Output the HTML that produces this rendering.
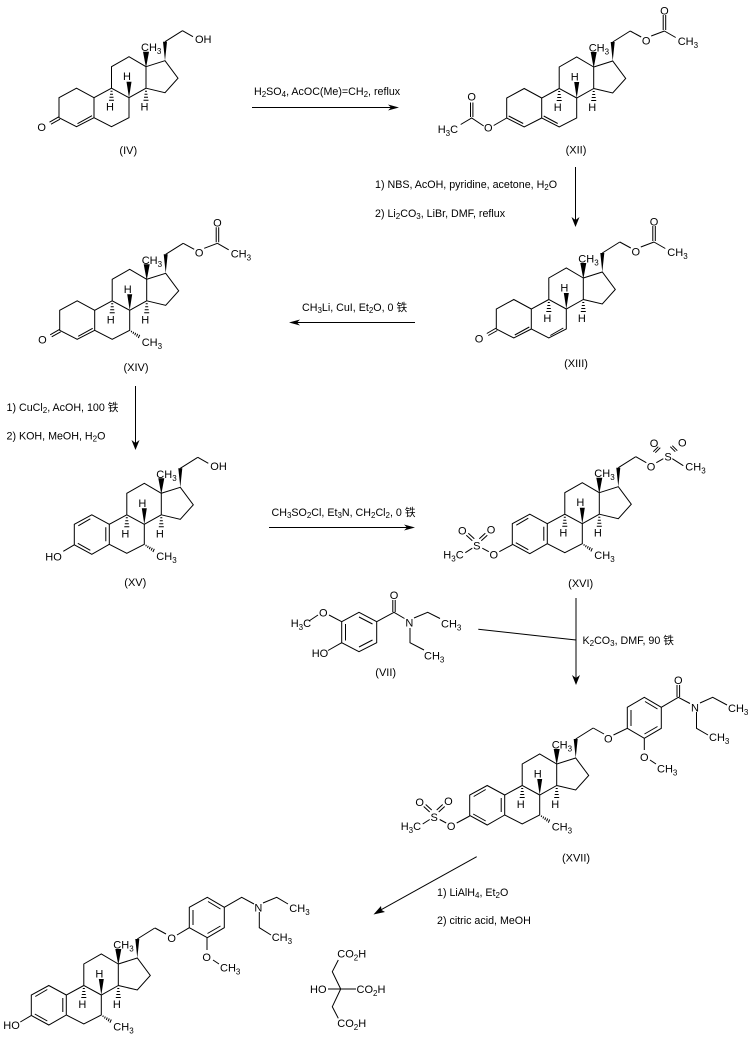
<!DOCTYPE html>
<html><head><meta charset="utf-8">
<style>
html,body{margin:0;padding:0;background:#fff}
svg{display:block}
text{font-family:"Liberation Sans","Noto Sans CJK SC",sans-serif;font-size:11px;fill:#000}
.m{text-anchor:middle}
.r{font-size:10.7px}
.l{font-size:11px;text-anchor:middle}
tspan.s{font-size:8px}
path.b{fill:none;stroke:#000;stroke-width:1}
</style></head><body>
<svg width="750" height="1038" viewBox="0 0 750 1038" xmlns="http://www.w3.org/2000/svg">
<defs>
<g id="sk">
<path class="b" d="M0,0L-17,-10L-34.5,0L-34.5,21.5L-17,31L0,21.5L0,0L19,-6L32,11.5L19,26L0,21.5M-17,31L-17,51L-34.5,60L-52,51L-52,31L-34.5,21.5M19,-25L36.5,-36"/>
<polygon points="0,1 -3,-15 3,-15"/>
<polygon points="-17,31 -19.5,15 -14.5,15"/>
<polygon points="19,-6 17,-25 21,-25"/>
<path class="b" d="M-35.5,24.5h2M-36,27.5h3M-36.5,30.5h4M-37,33.5h5M-1,24.5h2M-1.5,27.5h3M-2,30.5h4M-2.5,33.5h5"/>
</g>
<g id="ketA"><path class="b" d="M-52,31L-69.5,21.5L-87,31L-87,51L-69.5,60L-52,51M-68.5,57L-54,49M-87,50L-96.5,55.5M-86,52.5L-95,57.5"/></g>
<g id="arA"><path class="b" d="M-52,31L-69.5,21.5L-87,31L-87,51.5L-69.5,61L-52,51M-71,25.5L-83,32.5M-83.5,50L-71,57M-55.5,34V48"/></g>
<g id="me7"><path class="b" d="M-15,51.5l-.5,1.5M-13,52.5l-.8,2M-11,53.5l-1,2.4M-9,54.5l-1.2,2.8M-7,55.5l-1.4,3.2"/></g>
<g id="ac"><path class="b" d="M36.5,-36L47.5,-30M57.5,-31L70.7,-36M69.5,-37V-52M72,-37V-52M70.7,-36L82,-29.5"/></g>
<g id="msL"><path class="b" d="M-87,52L-100,59M-110.5,59L-117,55.5M-127,55.5L-134,60M-127,48L-133,42.5M-125,46L-131,40.5M-118,48L-112,42.5M-120,46L-114,40.5"/></g>
</defs>

<!-- IV -->
<g transform="translate(146,66.7)">
<use href="#sk"/><use href="#ketA"/>
<path class="b" d="M36.5,-36L47,-30"/>
<text x="49" y="-23.5">OH</text>
<text x="-104.3" y="64.3" class="m">O</text>
<text x="-5" y="-15.5">CH<tspan class="s" dy="3">3</tspan></text>
<text x="-19" y="13.5" class="m">H</text><text x="-36" y="44" class="m">H</text><text x="-1.5" y="44" class="m">H</text>
</g>
<text x="128.3" y="154" class="l">(IV)</text>

<!-- XII -->
<g transform="translate(593.7,67)">
<use href="#sk"/><use href="#ac"/>
<path class="b" d="M-52,31L-69.5,21.5L-87,31L-87,51L-69.5,60L-52,51M-85,49L-70.5,56.5M-50,49L-36,56.5M-87,51L-100,58.5M-110,59L-122,51L-133,57.5M-123.2,50V35.5M-120.8,50V35.5"/>
<text x="52.5" y="-22.7" class="m">O</text><text x="70.7" y="-52.7" class="m">O</text>
<text x="84" y="-22">CH<tspan class="s" dy="3">3</tspan></text>
<text x="-105.4" y="64.5" class="m">O</text><text x="-122" y="33.5" class="m">O</text>
<text x="-156" y="66">H<tspan class="s" dy="3">3</tspan><tspan dy="-3">C</tspan></text>
<text x="-5" y="-15.5">CH<tspan class="s" dy="3">3</tspan></text>
<text x="-19" y="13.5" class="m">H</text><text x="-36" y="44" class="m">H</text><text x="-1.5" y="44" class="m">H</text>
</g>
<text x="576" y="153.5" class="l">(XII)</text>

<!-- XIII -->
<g transform="translate(583.3,278)">
<use href="#sk"/><use href="#ketA"/><use href="#ac"/>
<path class="b" d="M-20,50L-33,57.5"/>
<text x="52.5" y="-22.7" class="m">O</text><text x="70.7" y="-52.7" class="m">O</text>
<text x="84" y="-22">CH<tspan class="s" dy="3">3</tspan></text>
<text x="-104.3" y="64.3" class="m">O</text>
<text x="-5" y="-15.5">CH<tspan class="s" dy="3">3</tspan></text>
<text x="-19" y="13.5" class="m">H</text><text x="-36" y="44" class="m">H</text><text x="-1.5" y="44" class="m">H</text>
</g>
<text x="576" y="367" class="l">(XIII)</text>

<!-- XIV -->
<g transform="translate(146.7,279.3)">
<use href="#sk"/><use href="#ketA"/><use href="#ac"/><use href="#me7"/>
<text x="52.5" y="-22.7" class="m">O</text><text x="70.7" y="-52.7" class="m">O</text>
<text x="84" y="-22">CH<tspan class="s" dy="3">3</tspan></text>
<text x="-104.3" y="64.3" class="m">O</text>
<text x="-5" y="66.5">CH<tspan class="s" dy="3">3</tspan></text>
<text x="-5" y="-15.5">CH<tspan class="s" dy="3">3</tspan></text>
<text x="-19" y="13.5" class="m">H</text><text x="-36" y="44" class="m">H</text><text x="-1.5" y="44" class="m">H</text>
</g>
<text x="136" y="371" class="l">(XIV)</text>

<!-- XV -->
<g transform="translate(161.3,493.3)">
<use href="#sk"/><use href="#arA"/><use href="#me7"/>
<path class="b" d="M36.5,-36L47,-30M-87,51.5L-98,58"/>
<text x="49" y="-23.5">OH</text>
<text x="-116" y="67">HO</text>
<text x="-5" y="66.5">CH<tspan class="s" dy="3">3</tspan></text>
<text x="-5" y="-15.5">CH<tspan class="s" dy="3">3</tspan></text>
<text x="-19" y="13.5" class="m">H</text><text x="-36" y="44" class="m">H</text><text x="-1.5" y="44" class="m">H</text>
</g>
<text x="135.3" y="586" class="l">(XV)</text>

<!-- XVI -->
<g transform="translate(599.3,492.7)">
<use href="#sk"/><use href="#arA"/><use href="#me7"/><use href="#msL"/>
<path class="b" d="M36.5,-36L47,-30M57,-30L64,-34M59,-46L54,-41M61,-45L56,-40M71,-46L76,-41M73,-47L78,-42M73,-34L84,-27"/>
<text x="51.7" y="-22.4" class="m">O</text><text x="68.7" y="-32.4" class="m">S</text>
<text x="54.7" y="-45.7" class="m">O</text><text x="83" y="-46.4" class="m">O</text>
<text x="86" y="-22">CH<tspan class="s" dy="3">3</tspan></text>
<text x="-105.5" y="65.8" class="m">O</text><text x="-122.5" y="56.8" class="m">S</text>
<text x="-137" y="41.8" class="m">O</text><text x="-108.3" y="41" class="m">O</text>
<text x="-156" y="65.8">H<tspan class="s" dy="3">3</tspan><tspan dy="-3">C</tspan></text>
<text x="-5" y="66.5">CH<tspan class="s" dy="3">3</tspan></text>
<text x="-5" y="-15.5">CH<tspan class="s" dy="3">3</tspan></text>
<text x="-19" y="13.5" class="m">H</text><text x="-36" y="44" class="m">H</text><text x="-1.5" y="44" class="m">H</text>
</g>
<text x="580.7" y="587" class="l">(XVI)</text>

<!-- VII -->
<path class="b" d="M341.7,621.7V642.7L359,651.7L376.7,642.7V621.7L359,612.3L341.7,621.7M345.5,624V640.5M359,647L372.5,640M372.5,624L359,617M376.7,621.7L394,612.3L404.5,618.5M392.8,612V600M395.2,612V600M341.7,621.7L329,615M318,615L309,621M341.7,642.7L328,650.5M414,618L427.7,612.3L440,618.5M410,628V642.7L424,650"/>
<text x="394" y="599" class="m">O</text>
<text x="409.3" y="626.6" class="m">N</text>
<text x="323.3" y="616.6" class="m">O</text>
<text x="290.7" y="627">H<tspan class="s" dy="3">3</tspan><tspan dy="-3">C</tspan></text>
<text x="311.7" y="657">HO</text>
<text x="441" y="627.3">CH<tspan class="s" dy="3">3</tspan></text>
<text x="424" y="659.5">CH<tspan class="s" dy="3">3</tspan></text>
<text x="385.7" y="676" class="l">(VII)</text>

<!-- XVII -->
<g transform="translate(556.7,764)">
<use href="#sk"/><use href="#arA"/><use href="#me7"/><use href="#msL"/>
<text x="-105.5" y="65.8" class="m">O</text><text x="-122.5" y="56.8" class="m">S</text>
<text x="-137" y="41.8" class="m">O</text><text x="-108.3" y="41" class="m">O</text>
<text x="-156" y="65.8">H<tspan class="s" dy="3">3</tspan><tspan dy="-3">C</tspan></text>
<text x="-5" y="66.5">CH<tspan class="s" dy="3">3</tspan></text>
<text x="-5" y="-15.5">CH<tspan class="s" dy="3">3</tspan></text>
<text x="-19" y="13.5" class="m">H</text><text x="-36" y="44" class="m">H</text><text x="-1.5" y="44" class="m">H</text>
</g>
<path class="b" d="M593.2,728L604,734M613.5,735L627.3,728.3V707.3L644.3,697.3L661.3,707.3V728.3L644.3,738.3L627.3,728.3M631,710V726M645,701.5L657.5,709M644.5,734L657.5,726.5M661.3,707.3L678.3,697.3L690,703.5M677,697V685M679.6,697V685M644.3,738.3V750M650,760L656,764M700,703L712.7,697.3L727,705M696.5,712V728.3L708,735"/>
<text x="608.3" y="742.6" class="m">O</text>
<text x="644.3" y="761" class="m">O</text>
<text x="678.3" y="684" class="m">O</text>
<text x="695" y="711.6" class="m">N</text>
<text x="657" y="772.5">CH<tspan class="s" dy="3">3</tspan></text>
<text x="728" y="712">CH<tspan class="s" dy="3">3</tspan></text>
<text x="709" y="741">CH<tspan class="s" dy="3">3</tspan></text>
<text x="576" y="861.5" class="l">(XVII)</text>

<!-- Final -->
<g transform="translate(118.3,964)">
<use href="#sk"/><use href="#arA"/><use href="#me7"/>
<path class="b" d="M-87,51.5L-98,58"/>
<text x="-115" y="65">HO</text>
<text x="-5" y="66.5">CH<tspan class="s" dy="3">3</tspan></text>
<text x="-5" y="-15.5">CH<tspan class="s" dy="3">3</tspan></text>
<text x="-19" y="13.5" class="m">H</text><text x="-36" y="44" class="m">H</text><text x="-1.5" y="44" class="m">H</text>
</g>
<path class="b" d="M155,928L166,934M177,935L189.3,927.7V907.3L207.3,897.3L224.3,907.3V927.7L207.3,937.7L189.3,927.7M193,910V925M208,901.5L220.5,909M207.5,933.5L220.5,926M224.3,907.3L241.7,897.3L254,904M207,938V950M213,960L219,964M263,903L276.7,897.3L288,904M259.3,912V927.7L271,935"/>
<text x="171.7" y="942" class="m">O</text>
<text x="206.7" y="961" class="m">O</text>
<text x="258.3" y="911.6" class="m">N</text>
<text x="220" y="971.5">CH<tspan class="s" dy="3">3</tspan></text>
<text x="289.3" y="912">CH<tspan class="s" dy="3">3</tspan></text>
<text x="271.7" y="941">CH<tspan class="s" dy="3">3</tspan></text>

<!-- citric acid -->
<path class="b" d="M328,989H356M340.7,989L332.3,971.7L338.3,960M340.7,989L332.3,1006.7L338.3,1018.3"/>
<text x="310" y="993">HO</text>
<text x="356.5" y="993">CO<tspan class="s" dy="3">2</tspan><tspan dy="-3">H</tspan></text>
<text x="337.3" y="957.5">CO<tspan class="s" dy="3">2</tspan><tspan dy="-3">H</tspan></text>
<text x="337.3" y="1027">CO<tspan class="s" dy="3">2</tspan><tspan dy="-3">H</tspan></text>

<!-- arrows -->
<path class="b" d="M252,107.5H396"/><polygon points="399,107.5 388,104.5 391,107.5 388,110.5"/>
<text x="254" y="95" class="r">H<tspan class="s" dy="2">2</tspan><tspan dy="-2">SO</tspan><tspan class="s" dy="2">4</tspan><tspan dy="-2">, AcOC(Me)=CH</tspan><tspan class="s" dy="2">2</tspan><tspan dy="-2">, reflux</tspan></text>

<path class="b" d="M575.5,167V224"/><polygon points="575.5,227 571.5,217 575.5,220 579.5,217"/>
<text x="375" y="188" class="r">1) NBS, AcOH, pyridine, acetone, H<tspan class="s" dy="2">2</tspan><tspan dy="-2">O</tspan></text>
<text x="375" y="217" class="r">2) Li<tspan class="s" dy="2">2</tspan><tspan dy="-2">CO</tspan><tspan class="s" dy="2">3</tspan><tspan dy="-2">, LiBr, DMF, reflux</tspan></text>

<path class="b" d="M415,322.5H292"/><polygon points="289,322.5 300,319.5 297,322.5 300,325.5"/>
<text x="302" y="311" class="r">CH<tspan class="s" dy="2">3</tspan><tspan dy="-2">Li, CuI, Et</tspan><tspan class="s" dy="2">2</tspan><tspan dy="-2">O, 0 铁</tspan></text>

<path class="b" d="M135.5,386V447"/><polygon points="135.5,450 131.5,440 135.5,443 139.5,440"/>
<text x="6.5" y="411" class="r">1) CuCl<tspan class="s" dy="2">2</tspan><tspan dy="-2">, AcOH, 100 铁</tspan></text>
<text x="6.5" y="439.5" class="r">2) KOH, MeOH, H<tspan class="s" dy="2">2</tspan><tspan dy="-2">O</tspan></text>

<path class="b" d="M269,527.5H412"/><polygon points="415,527.5 404,524.5 407,527.5 404,530.5"/>
<text x="271.5" y="516" class="r">CH<tspan class="s" dy="2">3</tspan><tspan dy="-2">SO</tspan><tspan class="s" dy="2">2</tspan><tspan dy="-2">Cl, Et</tspan><tspan class="s" dy="2">3</tspan><tspan dy="-2">N, CH</tspan><tspan class="s" dy="2">2</tspan><tspan dy="-2">Cl</tspan><tspan class="s" dy="2">2</tspan><tspan dy="-2">, 0 铁</tspan></text>

<path class="b" d="M576,598V682M478.3,629.3L576,640"/><polygon points="576,685 572,675 576,678 580,675"/>
<text x="582.5" y="644" class="r">K<tspan class="s" dy="2">2</tspan><tspan dy="-2">CO</tspan><tspan class="s" dy="2">3</tspan><tspan dy="-2">, DMF, 90 铁</tspan></text>

<path class="b" d="M476.7,856.7L377,912"/><polygon points="373.5,914.5 381,906 381.5,910 385,912"/>
<text x="437" y="896" class="r">1) LiAlH<tspan class="s" dy="2">4</tspan><tspan dy="-2">, Et</tspan><tspan class="s" dy="2">2</tspan><tspan dy="-2">O</tspan></text>
<text x="437" y="924" class="r">2) citric acid, MeOH</text>
</svg>
</body></html>
